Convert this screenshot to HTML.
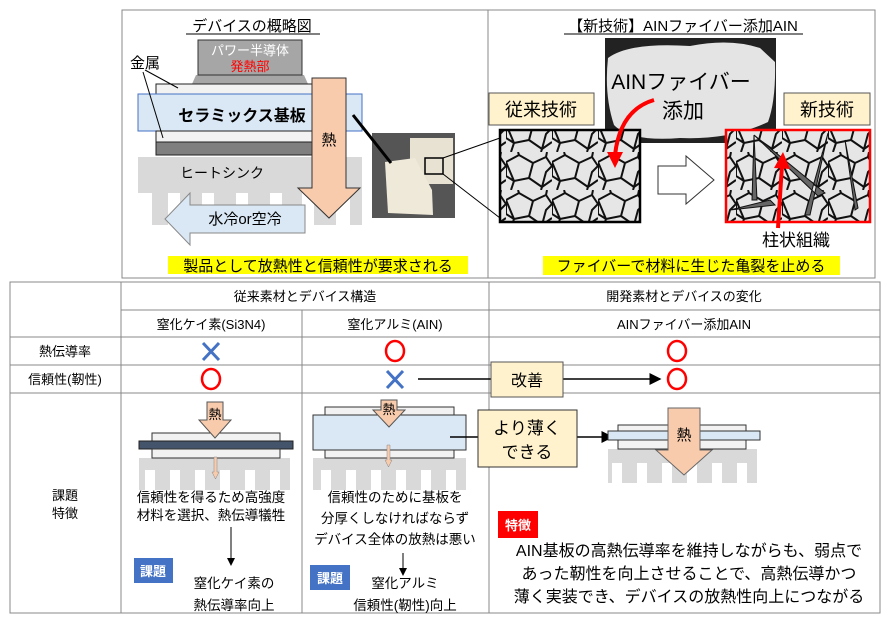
<!DOCTYPE html>
<html><head><meta charset="utf-8"><style>
html,body{margin:0;padding:0;background:#fff}
svg{display:block}
text{font-family:"Liberation Sans","Noto Sans CJK JP",sans-serif}
</style></head><body>
<svg width="888" height="621" viewBox="0 0 888 621" xmlns="http://www.w3.org/2000/svg">
<defs>
<pattern id="grain" width="46" height="38" patternUnits="userSpaceOnUse">
<rect width="46" height="38" fill="#e6e6e6"/>
<path d="M0 10 L13 3 L27 11 L23 26 L8 29 Z M27 11 L40 5 L46 14 M23 26 L36 35 L46 28 M8 29 L5 38 M36 35 L35 38 M13 3 L12 0 M40 5 L41 0 M36 35 L40 20 L46 14 M0 10 L0 24 L8 29" fill="none" stroke="#111" stroke-width="2"/>
</pattern>
<marker id="ah" markerWidth="8" markerHeight="8" refX="7" refY="4" orient="auto"><path d="M0 0 L8 4 L0 8 Z" fill="#000"/></marker>
</defs>

<rect x="122" y="10" width="753" height="268" fill="none" stroke="#888" stroke-width="1"/>
<line x1="488" y1="10" x2="488" y2="278" stroke="#888"/>

<text x="252" y="31" font-size="15" text-anchor="middle">デバイスの概略図</text>
<line x1="186" y1="34" x2="320" y2="34" stroke="#000"/>
<path d="M196 75 L304 75 L308 84 L192 84 Z" fill="#a6a6a6"/>
<rect x="198" y="40" width="104" height="35" fill="#a6a6a6" stroke="#333"/>
<text x="250" y="55" font-size="13" fill="#fff" text-anchor="middle">パワー半導体</text>
<text x="250" y="71" font-size="13" fill="#f00" text-anchor="middle">発熱部</text>
<path d="M138 157 H362 V225 H350 V193 H336 V225 H314 V193 H302 V225 H282 V193 H270 V225 H248 V193 H236 V225 H214 V193 H202 V225 H180 V193 H168 V225 H152 V193 H138 Z" fill="#d9d9d9"/>
<text x="180" y="178" font-size="14">ヒートシンク</text>
<rect x="156" y="84" width="170" height="10" fill="#f2f2f2" stroke="#222"/>
<rect x="138" y="94" width="224" height="37" fill="#dae8f5" stroke="#4472c4"/>
<text x="242" y="121" font-size="16" font-weight="bold" text-anchor="middle">セラミックス基板</text>
<rect x="156" y="131" width="170" height="11" fill="#f2f2f2" stroke="#222"/>
<rect x="156" y="142" width="170" height="13" fill="#7f7f7f" stroke="#222"/>
<text x="130" y="68" font-size="15">金属</text>
<line x1="145" y1="70" x2="178" y2="88" stroke="#000"/>
<line x1="143" y1="72" x2="163" y2="138" stroke="#000"/>
<path d="M312 78 H346 V188 H360 L329 218 L298 188 H312 Z" fill="#f8cbad" stroke="#333"/>
<text x="329" y="145" font-size="15" text-anchor="middle">熱</text>
<path d="M305 205 H190 V193 L165 219 L190 245 V233 H305 Z" fill="#dae8f5" stroke="#888"/>
<text x="245" y="224" font-size="15" text-anchor="middle">水冷or空冷</text>
<rect x="372" y="133" width="83" height="85" fill="#555"/>
<rect x="410" y="138" width="43" height="46" fill="#e8e2d2"/>
<path d="M385 162 L415 158 L432 190 L433 215 L388 213 Z" fill="#efe9da"/>
<rect x="425" y="158" width="18" height="16" fill="none" stroke="#000" stroke-width="1.5"/>
<line x1="353" y1="115" x2="391" y2="163" stroke="#000" stroke-width="3"/>
<line x1="443" y1="158" x2="500" y2="138" stroke="#000"/>
<line x1="443" y1="174" x2="500" y2="218" stroke="#000"/>
<rect x="168" y="256" width="300" height="18" fill="#ffff00"/>
<text x="318" y="271" font-size="15" text-anchor="middle">製品として放熱性と信頼性が要求される</text>

<text x="683" y="31" font-size="15" text-anchor="middle">【新技術】AINファイバー添加AIN</text>
<line x1="564" y1="34" x2="803" y2="34" stroke="#000"/>
<rect x="605" y="38" width="171" height="105" fill="#222"/>
<path d="M608 58 Q630 42 690 46 Q730 38 760 48 L775 62 Q776 100 768 122 Q730 140 680 138 Q630 142 614 125 Q604 95 608 58 Z" fill="#e4e4e4"/>
<text x="681" y="89" font-size="21" text-anchor="middle">AINファイバー</text>
<text x="683" y="118" font-size="21" text-anchor="middle">添加</text>
<rect x="489" y="93" width="105" height="32" fill="#fff2cc" stroke="#555"/>
<text x="541" y="116" font-size="18" text-anchor="middle">従来技術</text>
<rect x="500" y="130" width="140" height="92" fill="url(#grain)" stroke="#000" stroke-width="2.5"/>
<path d="M654 100 Q620 110 615 155" fill="none" stroke="#f00" stroke-width="4"/>
<path d="M607 152 L615 168 L623 152 Z" fill="#f00"/>
<path d="M658 166 H686 V156 L714 180 L686 204 V194 H658 Z" fill="#fff" stroke="#333"/>
<rect x="784" y="93" width="86" height="32" fill="#fff2cc" stroke="#555"/>
<text x="827" y="116" font-size="18" text-anchor="middle">新技術</text>
<rect x="726" y="130" width="144" height="92" fill="url(#grain)" stroke="#f00" stroke-width="2.5"/>
<path d="M754 135 L752 200 L757 200 Z M754 135 L825 193 L818 196 Z M828 133 L805 215 L810 215 Z M845 140 L855 210 L858 208 Z M730 210 L770 200 L775 205 Z" fill="#666" stroke="#111"/>
<path d="M778 228 L782 165" stroke="#f00" stroke-width="4"/>
<path d="M774 168 L783 152 L790 169 Z" fill="#f00"/>
<text x="796" y="246" font-size="17" text-anchor="middle">柱状組織</text>
<rect x="543" y="256" width="297" height="19" fill="#ffff00"/>
<text x="691" y="271" font-size="15" text-anchor="middle">ファイバーで材料に生じた亀裂を止める</text>

<g stroke="#888" stroke-width="1" fill="none">
<rect x="10" y="282" width="870" height="331"/>
<line x1="121" y1="282" x2="121" y2="613"/>
<line x1="302" y1="310" x2="302" y2="613"/>
<line x1="489" y1="282" x2="489" y2="613"/>
<line x1="121" y1="310" x2="880" y2="310"/>
<line x1="10" y1="337" x2="880" y2="337"/>
<line x1="10" y1="365" x2="880" y2="365"/>
<line x1="10" y1="393" x2="880" y2="393"/>
</g>
<g font-size="13" text-anchor="middle">
<text x="305" y="301">従来素材とデバイス構造</text>
<text x="684" y="301">開発素材とデバイスの変化</text>
<text x="211" y="329">窒化ケイ素(Si3N4)</text>
<text x="395" y="329">窒化アルミ(AIN)</text>
<text x="684" y="329">AINファイバー添加AIN</text>
<text x="65" y="356">熱伝導率</text>
<text x="65" y="384">信頼性(靭性)</text>
<text x="65" y="500">課題</text>
<text x="65" y="518">特徴</text>
</g>
<g stroke="#4472c4" stroke-width="3">
<path d="M203 343 L219 360 M219 343 L203 360"/>
<path d="M387 371 L403 388 M403 371 L387 388"/>
</g>
<g fill="none" stroke="#f00" stroke-width="2.5">
<ellipse cx="395" cy="351" rx="9" ry="10"/>
<ellipse cx="677" cy="351" rx="9" ry="10"/>
<ellipse cx="211" cy="379" rx="9" ry="10"/>
<ellipse cx="677" cy="379" rx="9" ry="10"/>
</g>
<line x1="418" y1="379" x2="660" y2="379" stroke="#000" stroke-width="1.5" marker-end="url(#ah)"/>
<rect x="491" y="362" width="72" height="35" fill="#fff2cc" stroke="#555"/>
<text x="527" y="386" font-size="16" text-anchor="middle">改善</text>

<path d="M139 458 H290 V490 H280 V470 H270 V490 H255 V470 H245 V490 H230 V470 H220 V490 H205 V470 H195 V490 H180 V470 H170 V490 H155 V470 H145 V490 H139 Z" fill="#d9d9d9"/>
<rect x="152" y="433" width="128" height="8" fill="#f2f2f2" stroke="#333"/>
<rect x="139" y="441" width="154" height="8" fill="#44546a" stroke="#222"/>
<rect x="152" y="449" width="128" height="9" fill="#f2f2f2" stroke="#333"/>
<path d="M207 402 H223 V420 H231 L215 438 L199 420 H207 Z" fill="#f8cbad" stroke="#555"/>
<text x="215" y="419" font-size="13" text-anchor="middle">熱</text>
<path d="M214 457 H217 V472 H219 L215.5 479 L212 472 H214 Z" fill="#f8cbad" stroke="#888" stroke-width="0.5"/>
<g font-size="13.5" text-anchor="middle">
<text x="211" y="502">信頼性を得るため高強度</text>
<text x="211" y="520">材料を選択、熱伝導犠牲</text>
<text x="234" y="588">窒化ケイ素の</text>
<text x="234" y="610">熱伝導率向上</text>
<text x="395" y="502">信頼性のために基板を</text>
<text x="395" y="523">分厚くしなければならず</text>
<text x="395" y="544">デバイス全体の放熱は悪い</text>
<text x="405" y="588">窒化アルミ</text>
<text x="405" y="610">信頼性(靭性)向上</text>
</g>
<line x1="231" y1="527" x2="231" y2="565" stroke="#000" marker-end="url(#ah)"/>
<rect x="134" y="558" width="39" height="25" fill="#4472c4"/>
<text x="153" y="576" font-size="13" fill="#fff" font-weight="bold" text-anchor="middle">課題</text>
<path d="M313 458 H466 V490 H456 V470 H446 V490 H431 V470 H421 V490 H406 V470 H396 V490 H381 V470 H371 V490 H356 V470 H346 V490 H331 V470 H321 V490 H313 Z" fill="#d9d9d9"/>
<rect x="325" y="407" width="129" height="8" fill="#f2f2f2" stroke="#333"/>
<rect x="313" y="415" width="153" height="35" fill="#dae8f5" stroke="#333"/>
<rect x="325" y="450" width="129" height="8" fill="#f2f2f2" stroke="#333"/>
<path d="M381 400 H397 V410 H405 L389 427 L373 410 H381 Z" fill="#f8cbad" stroke="#555"/>
<text x="389" y="414" font-size="13" text-anchor="middle">熱</text>
<path d="M387 445 H390 V460 H392 L388.5 467 L385 460 H387 Z" fill="#f8cbad" stroke="#888" stroke-width="0.5"/>
<line x1="403" y1="553" x2="403" y2="575" stroke="#000" marker-end="url(#ah)"/>
<rect x="310" y="565" width="40" height="25" fill="#4472c4"/>
<text x="330" y="583" font-size="13" fill="#fff" font-weight="bold" text-anchor="middle">課題</text>
<line x1="450" y1="437" x2="478" y2="437" stroke="#000" stroke-width="1.5"/>
<line x1="577" y1="437" x2="612" y2="437" stroke="#000" stroke-width="1.5" marker-end="url(#ah)"/>
<rect x="478" y="410" width="99" height="57" fill="#fff2cc" stroke="#333"/>
<text x="527" y="434" font-size="17" text-anchor="middle">より薄く</text>
<text x="527" y="458" font-size="17" text-anchor="middle">できる</text>
<path d="M608 449 H757 V483 H747 V463 H737 V483 H722 V463 H712 V483 H697 V463 H687 V483 H672 V463 H662 V483 H647 V463 H637 V483 H622 V463 H612 V483 H608 Z" fill="#d9d9d9"/>
<rect x="618" y="425" width="128" height="6" fill="#f2f2f2" stroke="#333"/>
<rect x="608" y="431" width="152" height="9" fill="#dae8f5" stroke="#333"/>
<rect x="618" y="440" width="128" height="9" fill="#f2f2f2" stroke="#333"/>
<path d="M668 408 H700 V450 H712 L684 475 L656 450 H668 Z" fill="#f8cbad" stroke="#666"/>
<text x="684" y="440" font-size="15" text-anchor="middle">熱</text>
<rect x="498" y="511" width="40" height="27" fill="#ff0000"/>
<text x="518" y="530" font-size="13" fill="#fff" font-weight="bold" text-anchor="middle">特徴</text>
<g font-size="16" text-anchor="middle">
<text x="689" y="556">AIN基板の高熱伝導率を維持しながらも、弱点で</text>
<text x="689" y="579">あった靭性を向上させることで、高熱伝導かつ</text>
<text x="689" y="602">薄く実装でき、デバイスの放熱性向上につながる</text>
</g>
</svg>
</body></html>
